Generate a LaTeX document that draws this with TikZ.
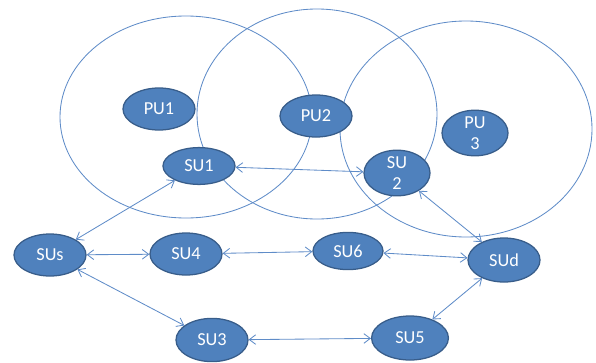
\documentclass[tikz,border=0pt]{standalone}
\usepackage{fontspec}
\setmainfont{Carlito}
\usetikzlibrary{shapes.geometric,arrows.meta}
\definecolor{nodeblue}{RGB}{79,129,189}
\definecolor{nodeedge}{RGB}{56,93,138}
\definecolor{linkblue}{RGB}{95,140,200}
\tikzset{
  user/.style={ellipse, fill=nodeblue, draw=nodeedge, line width=0.9pt, text=white,
    minimum width=1.8cm, minimum height=1.05cm, inner sep=0pt, align=center,
    font=\fontsize{13}{14.5}\selectfont},
  coverage/.style={draw=linkblue, line width=0.6pt},
  link/.style={draw=linkblue, line width=0.6pt, {Straight Barb[length=1.6mm,width=2.4mm]}-{Straight Barb[length=1.6mm,width=2.4mm]}}
}

\begin{document}
\begin{tikzpicture}[x=0.025cm, y=-0.025cm]
\useasboundingbox (0,0) rectangle (596,362);
% circles
\draw [coverage] (186,117) ellipse [x radius=126, y radius=101];
\draw [coverage] (317,114) ellipse [x radius=120, y radius=105];
\draw [coverage] (466,129) ellipse [x radius=126, y radius=108];
% users
\node [user] (pu1) at (159,109) {PU1};
\node [user] (pu2) at (316,116) {PU2};
\node [user, minimum width=1.65cm, minimum height=1.08cm] (pu3) at (475,133) {PU\\3};
\node [user, minimum height=0.92cm] (su1) at (199,166) {SU1};
\node [user, minimum width=1.65cm, minimum height=0.95cm] (su2) at (397,173) {SU\\2};
\node [user] (sus) at (50,255) {SUs};
\node [user] (su4) at (186,254) {SU4};
\node [user, minimum width=1.75cm, minimum height=0.93cm] (su6) at (348,251) {SU6};
\node [user, minimum height=1.1cm] (sud) at (504,260) {SUd};
\node [user, minimum height=1.08cm] (su3) at (212,340) {SU3};
\node [user, minimum width=1.92cm, minimum height=1.1cm] (su5) at (410,338) {SU5};
% arrows
\draw [link] (sus) -- (su1);
\draw [link] (sus) -- (su4);
\draw [link] (sus) -- (su3);
\draw [link] (su1) -- (su2);
\draw [link] (su4) -- (su6);
\draw [link] (su6) -- (sud);
\draw [link] (su2) -- (sud);
\draw [link] (su3) -- (su5);
\draw [link] (su5) -- (sud);
\end{tikzpicture}
\end{document}
